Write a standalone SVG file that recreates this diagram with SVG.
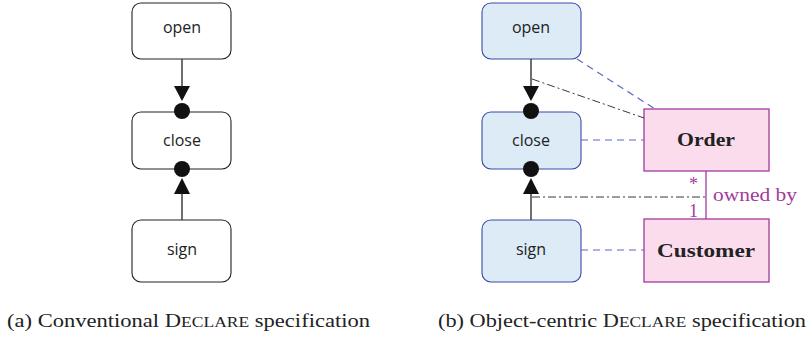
<svg xmlns="http://www.w3.org/2000/svg" width="811" height="343" viewBox="0 0 811 343">
<style>
.act{fill:#fff;stroke:#222;stroke-width:1.1}
.actb{fill:#dcebf5;stroke:#3b4aa6;stroke-width:1.1}
.obj{fill:#fadcec;stroke:#a2399c;stroke-width:1.3}
.lbl{font-family:"Open Sans","Noto Sans",sans-serif;font-size:16px;fill:#222;text-anchor:middle}
.olbl{font-family:"Liberation Serif",serif;font-size:18px;font-weight:bold;fill:#222;text-anchor:middle}
.line{stroke:#333;stroke-width:1.4;fill:none}
.dash{stroke:#5a69c0;stroke-width:1.2;stroke-dasharray:7 5;fill:none}
.dd{stroke:#222;stroke-width:0.9;stroke-dasharray:8 3 2 3;fill:none}
.assoc{stroke:#a2399c;stroke-width:1.3;fill:none}
.ptxt{font-family:"Liberation Serif",serif;font-size:18px;fill:#a2399c}
.cap{font-family:"Liberation Serif",serif;font-size:18px;fill:#222}
.blk{fill:#111}
</style>
<g id="a-open"><rect class="act" x="132" y="3" width="99" height="56" rx="9"/><text class="lbl" x="182" y="33">open</text></g>
<g id="a-close"><rect class="act" x="132" y="112" width="99" height="57" rx="9"/><text class="lbl" x="182" y="146">close</text></g>
<g id="a-sign"><rect class="act" x="132" y="220" width="99" height="62" rx="9"/><text class="lbl" x="182" y="255">sign</text></g>
<g id="b-open"><rect class="actb" x="482" y="3" width="99" height="56" rx="9"/><text class="lbl" x="531" y="33">open</text></g>
<g id="b-close"><rect class="actb" x="482" y="112" width="99" height="57" rx="9"/><text class="lbl" x="531" y="146">close</text></g>
<g id="b-sign"><rect class="actb" x="482" y="220" width="99" height="62" rx="9"/><text class="lbl" x="531" y="255">sign</text></g>
<g id="order"><rect class="obj" x="644" y="109" width="125" height="62"/><text class="olbl" x="706" y="146" textLength="58" lengthAdjust="spacingAndGlyphs">Order</text></g>
<g id="customer"><rect class="obj" x="644" y="219" width="125" height="63"/><text class="olbl" x="706" y="257" textLength="98" lengthAdjust="spacingAndGlyphs">Customer</text></g>
<g id="connectors">
<line class="line" x1="182" y1="59" x2="182" y2="86"/>
<polygon class="blk" points="174,86 190,86 182,101"/>
<circle class="blk" cx="182" cy="111" r="8"/>
<circle class="blk" cx="182" cy="169" r="8"/>
<polygon class="blk" points="182,178 174,194 190,194"/>
<line class="line" x1="182" y1="194" x2="182" y2="220"/>
<line class="line" x1="531" y1="59" x2="531" y2="86"/>
<polygon class="blk" points="523,86 539,86 531,101"/>
<circle class="blk" cx="531" cy="111" r="8"/>
<circle class="blk" cx="531" cy="169" r="8"/>
<polygon class="blk" points="531,178 523,194 539,194"/>
<line class="line" x1="531" y1="194" x2="531" y2="220"/>
<line class="dash" x1="577" y1="59" x2="655" y2="109"/>
<line class="dash" x1="581" y1="140" x2="644" y2="140"/>
<line class="dash" x1="581" y1="250" x2="644" y2="250"/>
<line class="dd" x1="532" y1="79" x2="644" y2="118"/>
<line class="dd" x1="532" y1="197" x2="706" y2="197"/>
<line class="assoc" x1="706" y1="171" x2="706" y2="219"/>
<text class="ptxt" x="689" y="190">*</text>
<text class="ptxt" x="689" y="217">1</text>
<text class="ptxt" x="713" y="201" textLength="84" lengthAdjust="spacingAndGlyphs">owned by</text>
</g>
<text class="cap" x="7" y="327" textLength="363" lengthAdjust="spacingAndGlyphs">(a) Conventional D<tspan font-size="14">ECLARE</tspan> specification</text>
<text class="cap" x="438" y="327" textLength="368" lengthAdjust="spacingAndGlyphs">(b) Object-centric D<tspan font-size="14">ECLARE</tspan> specification</text>
</svg>
